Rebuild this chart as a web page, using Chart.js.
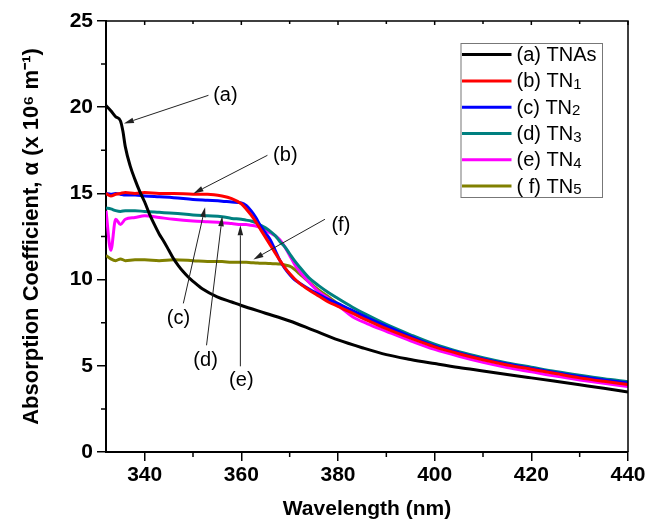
<!DOCTYPE html>
<html>
<head>
<meta charset="utf-8">
<script src="https://cdn.jsdelivr.net/npm/chart.js@4.4.1/dist/chart.umd.min.js"></script>
<style>
  html, body { margin: 0; padding: 0; background: #fff; }
  canvas { display: block; }
</style>
</head>
<body>
<canvas id="c" width="648" height="528" style="width:648px;height:528px"></canvas>
<script>
// ---------- data ----------
const wlA = [332,333,334,335,335.5,336,337,338,339,340,341,342,343,344,345,346,347,348,349,350,352,355,358,360,365,370,375,380,385,390,395,400,405,410,415,420,425,430,435,440];
const tnas = [20.1,19.8,19.45,19.2,18.6,17.7,16.6,15.8,15.1,14.5,13.8,13.2,12.65,12.2,11.7,11.2,10.8,10.45,10.15,9.9,9.45,9.0,8.7,8.5,8.05,7.6,7.05,6.5,6.05,5.65,5.37,5.13,4.9,4.7,4.5,4.3,4.1,3.9,3.7,3.48];

const wlC = [332,333,334,335,336,338,340,343,346,350,353,356,358,360,361,362,363,364,365,366,367,368,369,370,371,372,374,376,378,380,383,386,390,395,400,405,410,415,420,425,430,435,440];
const tn1 = [15.0,14.85,14.95,15.0,15.05,15.0,15.05,15.0,15.0,14.95,14.95,14.85,14.7,14.4,14.1,13.75,13.35,12.9,12.45,12.0,11.55,11.1,10.7,10.35,10.05,9.8,9.4,9.05,8.7,8.45,8.05,7.65,7.15,6.6,6.1,5.7,5.35,5.05,4.8,4.55,4.3,4.1,3.92];
const tn2 = [15.0,14.95,15.0,14.95,14.9,14.9,14.85,14.8,14.75,14.65,14.6,14.55,14.5,14.45,14.3,14.0,13.6,13.1,12.7,12.3,11.7,11.1,10.65,10.3,10.0,9.8,9.45,9.15,8.85,8.6,8.2,7.8,7.3,6.7,6.15,5.75,5.4,5.1,4.85,4.6,4.38,4.18,4.0];
const tn3 = [14.15,14.1,14.0,13.95,14.0,14.0,13.95,13.9,13.85,13.75,13.7,13.65,13.55,13.5,13.45,13.4,13.3,13.15,13.0,12.8,12.55,12.2,11.9,11.5,11.1,10.75,10.1,9.65,9.25,8.9,8.4,7.95,7.4,6.8,6.25,5.82,5.47,5.17,4.92,4.67,4.45,4.25,4.08];
const tn4 = [14.0,11.7,13.5,13.2,13.5,13.6,13.7,13.6,13.5,13.4,13.35,13.3,13.25,13.2,13.2,13.15,13.1,13.0,12.85,12.7,12.55,12.3,11.9,11.4,10.9,10.5,9.85,9.3,8.9,8.5,7.85,7.45,7.0,6.45,5.95,5.55,5.2,4.9,4.65,4.4,4.18,3.98,3.8];
const tn5 = [11.4,11.2,11.1,11.2,11.1,11.15,11.15,11.1,11.15,11.1,11.05,11.05,11.0,11.0,11.0,10.98,10.97,10.95,10.95,10.93,10.92,10.9,10.85,10.78,10.6,10.35,9.85,9.4,9.0,8.6,8.15,7.75,7.25,6.7,6.15,5.75,5.4,5.1,4.85,4.6,4.37,4.17,3.98];

const seriesLabels = ['(a) TNAs', '(b) TN1', '(c) TN2', '(d) TN3', '(e) TN4', '( f) TN5'];
const seriesColors = ['#000000', '#ff0000', '#0000ff', '#008080', '#ff00ff', '#808000'];

const xMajorTicks = [340, 360, 380, 400, 420, 440];
const xMinorTicks = [350, 370, 390, 410, 430];
const yMajorTicks = [0, 5, 10, 15, 20, 25];
const yMinorTicks = [2.5, 7.5, 12.5, 17.5, 22.5];

// annotations (data coordinates): label, text centre, line start, arrow tip
const annLabels = ['(a)', '(b)', '(c)', '(d)', '(e)', '(f)'];
const annTextX = [356.7, 369.1, 347.0, 352.6, 360.0, 380.6];
const annTextY = [20.68, 17.21, 7.75, 5.32, 4.16, 13.15];
const annFromX = [353.2, 365.4, 348.0, 352.8, 359.8, 377.3];
const annFromY = [20.69, 17.21, 8.62, 6.19, 4.97, 13.5];
const annToX = [335.7, 350.1, 352.5, 356.05, 359.8, 362.5];
const annToY = [19.05, 15.0, 14.2, 13.67, 13.15, 11.17];

const FONT = 'Liberation Sans, Arial, sans-serif';

function pts(xs, ys) { return xs.map((x, i) => ({ x: x, y: ys[i] })); }
const seriesData = [pts(wlA, tnas), pts(wlC, tn1), pts(wlC, tn2), pts(wlC, tn3), pts(wlC, tn4), pts(wlC, tn5)];

const datasets = seriesData.map((d, i) => ({
  label: seriesLabels[i],
  data: d,
  borderColor: seriesColors[i],
  backgroundColor: seriesColors[i],
  borderWidth: 3,
  pointRadius: 0,
  fill: false,
  cubicInterpolationMode: 'monotone'
}));

// ---------- plugins ----------
const framePlugin = {
  id: 'frame',
  afterDraw(chart) {
    const { ctx, chartArea: a, scales: { x, y } } = chart;
    ctx.save();
    ctx.strokeStyle = '#000';
    ctx.lineWidth = 1.5;
    ctx.beginPath();
    ctx.moveTo(a.left, a.top); ctx.lineTo(a.right, a.top); ctx.lineTo(a.right, a.bottom);
    ctx.stroke();
    ctx.lineWidth = 1.5;
    ctx.beginPath();
    xMinorTicks.forEach(v => { const p = x.getPixelForValue(v); ctx.moveTo(p, a.bottom); ctx.lineTo(p, a.bottom + 5); ctx.moveTo(p, a.top); ctx.lineTo(p, a.top + 3); });
    xMajorTicks.forEach(v => { const p = x.getPixelForValue(v); ctx.moveTo(p, a.top); ctx.lineTo(p, a.top + 4); });
    yMinorTicks.forEach(v => { const p = y.getPixelForValue(v); ctx.moveTo(a.left, p); ctx.lineTo(a.left - 5, p); });
    ctx.stroke();
    ctx.restore();
  }
};

const legendPlugin = {
  id: 'boxLegend',
  afterDraw(chart) {
    const { ctx, chartArea: a } = chart;
    const left = a.right - 167.5, top = a.top + 22, w = 141.5, h = 154;
    ctx.save();
    ctx.fillStyle = '#fff';
    ctx.fillRect(left, top, w, h);
    ctx.strokeStyle = '#777';
    ctx.lineWidth = 1;
    ctx.strokeRect(left + 0.5, top + 0.5, w, h);
    chart.data.datasets.forEach((ds, i) => {
      const yy = top + 11.6 + i * 26.3;
      ctx.strokeStyle = ds.borderColor;
      ctx.lineWidth = 3;
      ctx.beginPath();
      ctx.moveTo(left + 1.5, yy); ctx.lineTo(left + 51, yy);
      ctx.stroke();
      ctx.fillStyle = '#000';
      ctx.textBaseline = 'middle';
      ctx.textAlign = 'left';
      const m = ds.label.match(/^(.*TN)(\d)$/);
      const main = m ? m[1] : ds.label;
      ctx.font = '20px ' + FONT;
      ctx.fillText(main, left + 56, yy + 1);
      if (m) {
        const wMain = ctx.measureText(main).width;
        ctx.font = '15px ' + FONT;
        ctx.fillText(m[2], left + 56 + wMain, yy + 4);
      }
    });
    ctx.restore();
  }
};

const annotationPlugin = {
  id: 'arrows',
  afterDraw(chart) {
    const { ctx, scales: { x, y } } = chart;
    ctx.save();
    ctx.strokeStyle = '#222';
    ctx.fillStyle = '#222';
    ctx.lineWidth = 1;
    annLabels.forEach((lab, i) => {
      const x1 = x.getPixelForValue(annFromX[i]), y1 = y.getPixelForValue(annFromY[i]);
      const x2 = x.getPixelForValue(annToX[i]), y2 = y.getPixelForValue(annToY[i]);
      const ang = Math.atan2(y2 - y1, x2 - x1);
      const L = 10, W = 2.8;
      const bx = x2 - L * Math.cos(ang), by = y2 - L * Math.sin(ang);
      ctx.beginPath();
      ctx.moveTo(x1, y1); ctx.lineTo(bx, by);
      ctx.stroke();
      ctx.beginPath();
      ctx.moveTo(x2, y2);
      ctx.lineTo(bx + W * Math.sin(ang), by - W * Math.cos(ang));
      ctx.lineTo(bx - W * Math.sin(ang), by + W * Math.cos(ang));
      ctx.closePath();
      ctx.fill();
      ctx.fillStyle = '#000';
      ctx.font = '20px ' + FONT;
      ctx.textAlign = 'center';
      ctx.textBaseline = 'middle';
      ctx.fillText(lab, x.getPixelForValue(annTextX[i]), y.getPixelForValue(annTextY[i]));
      ctx.fillStyle = '#222';
    });
    ctx.restore();
  }
};

// ---------- chart ----------
new Chart(document.getElementById('c'), {
  type: 'line',
  data: { datasets: datasets },
  options: {
    responsive: false,
    animation: false,
    events: [],
    layout: { padding: { top: 21, right: 20, left: 0, bottom: 0 } },
    plugins: { legend: { display: false }, tooltip: { enabled: false } },
    scales: {
      x: {
        type: 'linear',
        min: 332, max: 440,
        afterFit(s) { s.height = 76; },
        afterBuildTicks(s) { s.ticks = xMajorTicks.map(v => ({ value: v })); },
        ticks: { color: '#000', font: { family: FONT, size: 21, weight: 'bold' }, padding: 2, maxRotation: 0, autoSkip: false },
        grid: { drawOnChartArea: false, tickLength: 9, color: '#000', lineWidth: 1.5 },
        border: { color: '#000', width: 2 },
        title: { display: true, text: 'Wavelength (nm)', color: '#000', font: { family: FONT, size: 21, weight: 'bold' }, padding: { top: 0, bottom: 6 } }
      },
      y: {
        type: 'linear',
        min: 0, max: 25,
        afterFit(s) { s.width = 106; },
        afterBuildTicks(s) { s.ticks = yMajorTicks.map(v => ({ value: v })); },
        ticks: { color: '#000', font: { family: FONT, size: 21, weight: 'bold' }, padding: 4 },
        grid: { drawOnChartArea: false, tickLength: 9, color: '#000', lineWidth: 1.5 },
        border: { color: '#000', width: 2 },
        title: { display: true, text: 'Absorption Coefficient, \u03b1 (x 10\u2076 m\u207b\u00b9)', color: '#000', font: { family: FONT, size: 22, weight: 'bold' }, padding: { top: 19, bottom: 0 } }
      }
    }
  },
  plugins: [framePlugin, legendPlugin, annotationPlugin]
});
</script>
</body>
</html>
